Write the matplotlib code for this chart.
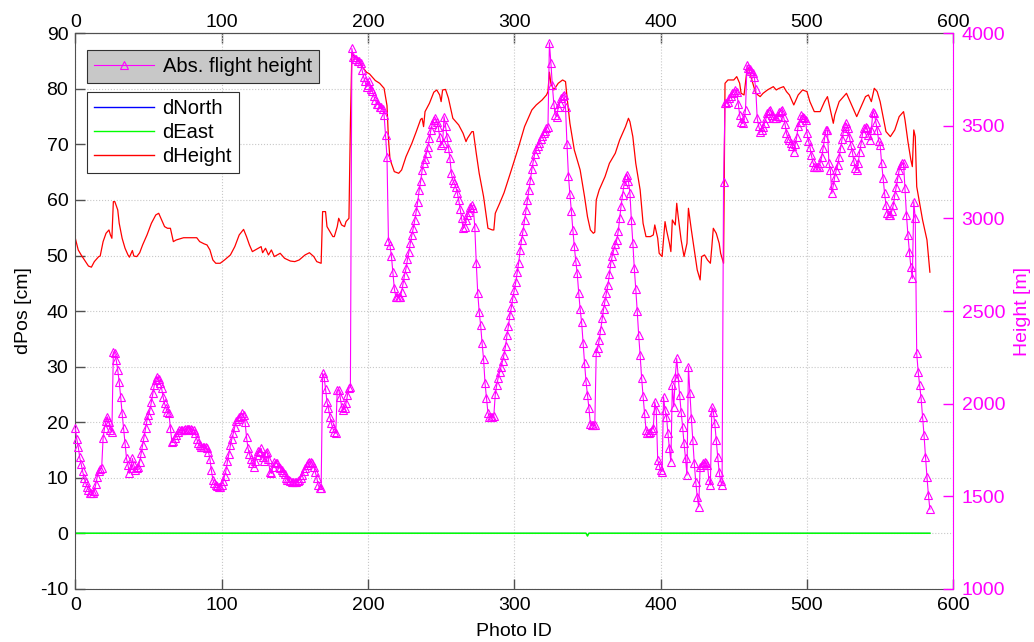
import matplotlib
matplotlib.use('Agg')
import matplotlib.pyplot as plt
import numpy as np

plt.rcParams['font.family'] = ['Liberation Sans', 'DejaVu Sans']
plt.rcParams['font.size'] = 14
plt.rcParams['axes.unicode_minus'] = False

# absolute flight height for each photo [m], right axis
flight_height = [
    1866, 1810, 1768, 1710, 1675, 1635, 1600, 1575, 1550, 1535,
    1520, 1515, 1518, 1530, 1565, 1605, 1635, 1645, 1650, 1815,
    1870, 1905, 1929, 1900, 1860, 1845, 2280, 2271, 2235, 2181,
    2118, 2037, 1947, 1866, 1785, 1704, 1668, 1624, 1650, 1704,
    1668, 1641, 1650, 1659, 1686, 1731, 1776, 1821, 1866, 1911,
    1940, 1965, 2010, 2055, 2100, 2127, 2145, 2135, 2110, 2082,
    2037, 2001, 1974, 1956, 1947, 1866, 1794, 1800, 1812, 1830,
    1845, 1857, 1857, 1860, 1860, 1862, 1862, 1862, 1865, 1865,
    1860, 1855, 1840, 1810, 1785, 1775, 1767, 1767, 1767, 1765,
    1760, 1740, 1700, 1640, 1590, 1569, 1560, 1555, 1552, 1552,
    1560, 1580, 1610, 1640, 1690, 1730, 1775, 1810, 1840, 1875,
    1905, 1915, 1929, 1935, 1947, 1940, 1900, 1820, 1760, 1730,
    1700, 1680, 1659, 1690, 1720, 1745, 1740, 1758, 1713, 1690,
    1731, 1740, 1700, 1632, 1623, 1659, 1686, 1680, 1677, 1659,
    1650, 1640, 1630, 1620, 1600, 1590, 1585, 1580, 1578, 1578,
    1578, 1578, 1580, 1590, 1600, 1614, 1635, 1650, 1668, 1680,
    1686, 1686, 1680, 1660, 1630, 1600, 1560, 1545, 1542, 2163,
    2145, 2080, 2010, 1974, 1929, 1893, 1866, 1848, 1840, 2073,
    2073, 2037, 1983, 1965, 1975, 2001, 2046, 2082, 2090, 3918,
    3870, 3860, 3860, 3850, 3850, 3840, 3800, 3765, 3740, 3710,
    3720, 3740, 3700, 3690, 3660, 3640, 3620, 3620, 3600, 3600,
    3590, 3560, 3450, 3330, 2880, 2856, 2800, 2712, 2622, 2578,
    2578, 2578, 2578, 2605, 2650, 2694, 2730, 2780, 2820, 2870,
    2910, 2950, 2990, 3040, 3090, 3154, 3200, 3260, 3300, 3320,
    3352, 3388, 3432, 3478, 3510, 3530, 3540, 3520, 3496, 3442,
    3396, 3406, 3550, 3500, 3440, 3380, 3324, 3244, 3207, 3190,
    3172, 3140, 3100, 3050, 3000, 2946, 2955, 2991, 3018, 3036,
    3060, 3072, 3054, 2955, 2760, 2600, 2496, 2424, 2325, 2240,
    2110, 2030, 1950, 1930, 1930, 1930, 1935, 2050, 2100, 2140,
    2170, 2200, 2230, 2265, 2310, 2370, 2420, 2478, 2520, 2570,
    2615, 2655, 2710, 2760, 2830, 2885, 2935, 2990, 3045, 3100,
    3154, 3210, 3265, 3310, 3350, 3375, 3390, 3410, 3430, 3445,
    3460, 3470, 3486, 3495, 3949, 3840, 3720, 3620, 3560, 3550,
    3600, 3622, 3648, 3660, 3666, 3600, 3400, 3230, 3130, 3040,
    2940, 2850, 2770, 2703, 2600, 2510, 2440, 2330, 2220, 2120,
    2046, 1975, 1890, 1884, 1884, 1884, 2280, 2298, 2343, 2400,
    2460, 2510, 2555, 2600, 2640, 2700, 2760, 2800, 2830, 2860,
    2883, 2930, 3000, 3070, 3126, 3185, 3226, 3234, 3200, 3140,
    2991, 2870, 2730, 2620, 2500, 2370, 2260, 2140, 2040, 1950,
    1860, 1840, 1840, 1845, 1860, 1870, 2010, 1965, 1695, 1668,
    1640, 1633, 2037, 1965, 1929, 1840, 1758, 1686, 2100, 1983,
    2145, 2244, 2145, 2046, 1956, 1875, 1785, 1704, 1614, 2199,
    2055, 1920, 1803, 1677, 1578, 1498, 1443, 1659, 1670, 1677,
    1686, 1680, 1668, 1587, 1560, 1983, 1956, 1893, 1803, 1713,
    1633, 1580, 1560, 3198, 3622, 3626, 3630, 3648, 3660, 3675,
    3685, 3693, 3684, 3620, 3560, 3520, 3513, 3540, 3585, 3828,
    3815, 3805, 3795, 3783, 3765, 3700, 3540, 3500, 3468, 3480,
    3495, 3515, 3540, 3570, 3580, 3585, 3560, 3545, 3540, 3540,
    3555, 3576, 3580, 3585, 3550, 3510, 3459, 3435, 3423, 3410,
    3390, 3360, 3400, 3440, 3500, 3522, 3558, 3549, 3540, 3531,
    3460, 3420, 3387, 3342, 3306, 3280, 3280, 3280, 3280, 3300,
    3330, 3378, 3432, 3477, 3477, 3300, 3260, 3135, 3180, 3225,
    3261, 3288, 3333, 3380, 3430, 3470, 3500, 3513, 3486, 3441,
    3396, 3360, 3310, 3270, 3261, 3297, 3360, 3405, 3459, 3486,
    3495, 3490, 3450, 3423, 3477, 3576, 3567, 3522, 3480, 3420,
    3396, 3300, 3220, 3140, 3072, 3030, 3018, 3020, 3040, 3072,
    3126, 3171, 3216, 3261, 3290, 3297, 3297, 3162, 3018, 2910,
    2820, 2739, 2676, 3090, 3000, 2271, 2172, 2100, 2028, 1929,
    1830, 1713, 1605, 1506, 1430,
]

dheight_id = [
    0, 2, 4, 7, 9, 11, 13, 16, 17, 19,
    21, 23, 24, 25, 26, 27, 29, 30, 32, 34,
    36, 37, 39, 40, 42, 44, 46, 49, 52, 55,
    57, 59, 61, 63, 65, 67, 69, 74, 78, 83,
    85, 88, 90, 92, 94, 96, 99, 102, 106, 109,
    112, 115, 117, 119, 121, 123, 125, 127, 128, 130,
    132, 134, 136, 140, 143, 147, 150, 153, 157, 160,
    163, 165, 168, 169, 171, 172, 174, 176, 177, 179,
    180, 182, 184, 185, 187, 188, 189, 190, 193, 196,
    199, 201, 205, 208, 211, 213, 214, 215, 216, 218,
    221, 223, 226, 230, 233, 236, 237, 238, 239, 242,
    245, 247, 249, 250, 251, 253, 255, 258, 262, 265,
    267, 268, 271, 272, 274, 276, 279, 282, 285, 286,
    287, 290, 293, 298, 303, 307, 312, 315, 319, 322,
    323, 324, 325, 327, 330, 333, 335, 336, 338, 341,
    345, 348, 350, 352, 354, 355, 356, 358, 362, 365,
    369, 372, 376, 378, 379, 381, 383, 386, 388, 390,
    393, 395, 396, 398, 399, 401, 403, 404, 406, 407,
    408, 410, 411, 412, 414, 416, 418, 419, 421, 423,
    425, 427, 428, 430, 432, 434, 435, 436, 438, 440,
    441, 443, 444, 446, 450, 452, 454, 455, 457, 459,
    460, 463, 465, 468, 470, 473, 477, 479, 481, 484,
    486, 488, 491, 494, 497, 500, 502, 505, 509, 512,
    514, 516, 518, 519, 522, 527, 529, 533, 534, 537,
    540, 542, 544, 546, 548, 550, 552, 554, 557, 560,
    563, 566, 567, 569, 571, 572, 573, 574, 575, 577,
    579, 582, 584,
]
dheight = [
    53.1, 51.0, 50.1, 48.9, 48.1, 47.9, 48.9, 49.8, 49.9, 52.5,
    54.0, 54.6, 53.7, 53.1, 59.7, 59.7, 58.2, 55.8, 53.1, 51.3,
    50.1, 49.7, 50.9, 49.9, 49.8, 50.5, 51.9, 53.7, 55.8, 57.3,
    57.6, 56.4, 55.2, 54.9, 54.9, 52.5, 52.8, 53.2, 53.2, 53.2,
    52.5, 52.1, 51.9, 51.0, 49.2, 48.6, 48.6, 49.2, 50.1, 51.6,
    53.7, 54.7, 53.4, 51.9, 50.7, 51.0, 51.3, 51.6, 50.5, 51.3,
    50.1, 51.0, 49.8, 50.4, 49.5, 49.0, 48.9, 49.2, 50.1, 50.5,
    49.8, 48.9, 48.6, 57.9, 57.9, 55.2, 54.3, 53.4, 53.4, 55.2,
    56.7, 55.5, 55.2, 56.1, 56.7, 73.8, 86.5, 86.0, 85.5, 84.0,
    83.0, 82.7, 81.5, 81.0, 80.1, 77.0, 71.0, 67.5, 66.6, 65.1,
    64.8, 65.4, 67.8, 70.2, 72.3, 74.5, 74.7, 73.2, 75.9, 77.4,
    79.4, 79.8, 78.9, 77.7, 79.8, 79.9, 78.3, 74.7, 73.5, 72.0,
    70.5, 71.1, 72.3, 72.3, 68.4, 64.8, 60.6, 54.9, 54.6, 54.6,
    57.6, 59.4, 61.3, 65.4, 69.6, 73.2, 76.2, 77.1, 78.0, 78.9,
    79.5, 83.0, 81.0, 79.8, 81.0, 81.6, 81.3, 78.6, 73.8, 69.0,
    65.4, 60.6, 57.0, 54.6, 54.0, 54.2, 60.0, 61.8, 64.2, 66.6,
    68.4, 70.8, 73.2, 74.7, 74.1, 71.4, 66.6, 61.8, 55.8, 53.4,
    53.4, 53.7, 55.5, 53.1, 50.4, 49.8, 56.1, 54.6, 52.2, 50.7,
    56.4, 55.5, 59.4, 57.0, 52.8, 49.8, 52.2, 58.5, 54.6, 51.0,
    47.4, 45.6, 49.8, 50.1, 49.2, 48.6, 51.6, 54.9, 54.0, 52.2,
    50.4, 48.6, 81.0, 81.6, 81.6, 82.2, 81.0, 79.2, 78.9, 83.4,
    83.7, 81.0, 79.2, 78.6, 79.2, 79.8, 80.4, 79.8, 80.1, 80.4,
    79.5, 78.9, 77.1, 78.9, 79.8, 79.5, 77.7, 75.9, 75.9, 77.7,
    78.6, 76.2, 73.8, 75.3, 77.7, 79.2, 78.0, 75.6, 75.0, 76.8,
    78.6, 78.9, 77.7, 80.1, 79.5, 77.7, 75.0, 72.3, 71.4, 72.6,
    75.0, 75.9, 74.4, 70.5, 67.2, 66.0, 72.6, 71.4, 62.4, 59.4,
    56.4, 52.8, 47.0,
]

n_photos = len(flight_height)
photo_id = np.arange(n_photos)

# dNorth and dEast stay on zero, one tiny blip near photo 350
dnorth = np.zeros(n_photos)
deast = np.zeros(n_photos)
dnorth[350] = -0.3
deast[350] = -0.5

W, H = 1034, 642
fig = plt.figure(figsize=(W / 100, H / 100), dpi=100)
ax = fig.add_axes([75.3 / W, 1 - 588.8 / H, 878 / W, 555.5 / H])
ax2 = ax.twinx()

axis_grey = '#505050'
magenta = '#ff00ff'

l_north, = ax.plot(photo_id, dnorth, color='#0000ff', lw=0.6)
l_east, = ax.plot(photo_id, deast, color='#00ff00', lw=1.1)
l_height, = ax.plot(dheight_id, dheight, color='#ff0000', lw=0.9)

l_abs, = ax2.plot(photo_id, flight_height, color=magenta, lw=0.8,
                  marker='^', ms=6, mfc='none', mec=magenta, mew=0.8,
                  clip_on=False)

# left axis
ax.set_xlim(0, 600)
ax.set_ylim(-10, 90)
ax.set_xticks(range(0, 601, 100))
ax.set_yticks(range(-10, 91, 10))
ax.grid(True, ls=':', color='#c8c8c8', lw=0.8)
ax.tick_params(direction='in', length=7, width=1, color=axis_grey,
               labelcolor='black', right=False, top=False)
ax.tick_params(axis='x', pad=6)
ax.tick_params(axis='y', pad=5)
for s in ['left', 'bottom', 'top']:
    ax.spines[s].set_color(axis_grey)
ax.spines['right'].set_visible(False)
ax.set_ylabel('dPos [cm]')
ax.yaxis.set_label_coords(-0.049, 0.5)
ax.set_xlabel('Photo ID')
ax.xaxis.set_label_coords(0.5, -0.062)

# top tick labels
top = ax.secondary_xaxis('top')
top.set_xticks(range(0, 601, 100))
top.tick_params(direction='in', length=7, width=1, color=axis_grey, pad=1.5)
top.spines['top'].set_color(axis_grey)

# right axis
ax2.set_ylim(1000, 4000)
ax2.set_yticks(range(1000, 4001, 500))
ax2.tick_params(axis='y', direction='in', length=7, width=1, colors=magenta, pad=6)
for s in ['left', 'bottom', 'top']:
    ax2.spines[s].set_visible(False)
ax2.spines['right'].set_color(magenta)
ax2.set_ylabel('Height [m]', color=magenta)
ax2.yaxis.set_label_coords(1.069, 0.5)

leg1 = ax2.legend([l_abs], ['Abs. flight height'], loc='upper left',
                  bbox_to_anchor=(87 / W, 1 - 50 / H), bbox_transform=fig.transFigure,
                  borderaxespad=0, fancybox=False, framealpha=1, facecolor='#c8c8c8',
                  edgecolor='#303030', handlelength=3.0, handletextpad=0.4,
                  borderpad=0.35, numpoints=1, fontsize=14.5)
leg1.get_frame().set_linewidth(0.8)
ax2.add_artist(leg1)

leg2 = ax2.legend([l_north, l_east, l_height], ['dNorth', 'dEast', 'dHeight'],
                  loc='upper left', bbox_to_anchor=(87 / W, 1 - 92 / H),
                  bbox_transform=fig.transFigure, borderaxespad=0, fancybox=False,
                  framealpha=1, facecolor='white', edgecolor='#303030',
                  handlelength=3.0, handletextpad=0.4, borderpad=0.35,
                  labelspacing=0.25, fontsize=14.5)
leg2.get_frame().set_linewidth(0.8)
for h in leg2.legend_handles:
    h.set_linewidth(1.0)

fig.savefig('out.png', dpi=100)
